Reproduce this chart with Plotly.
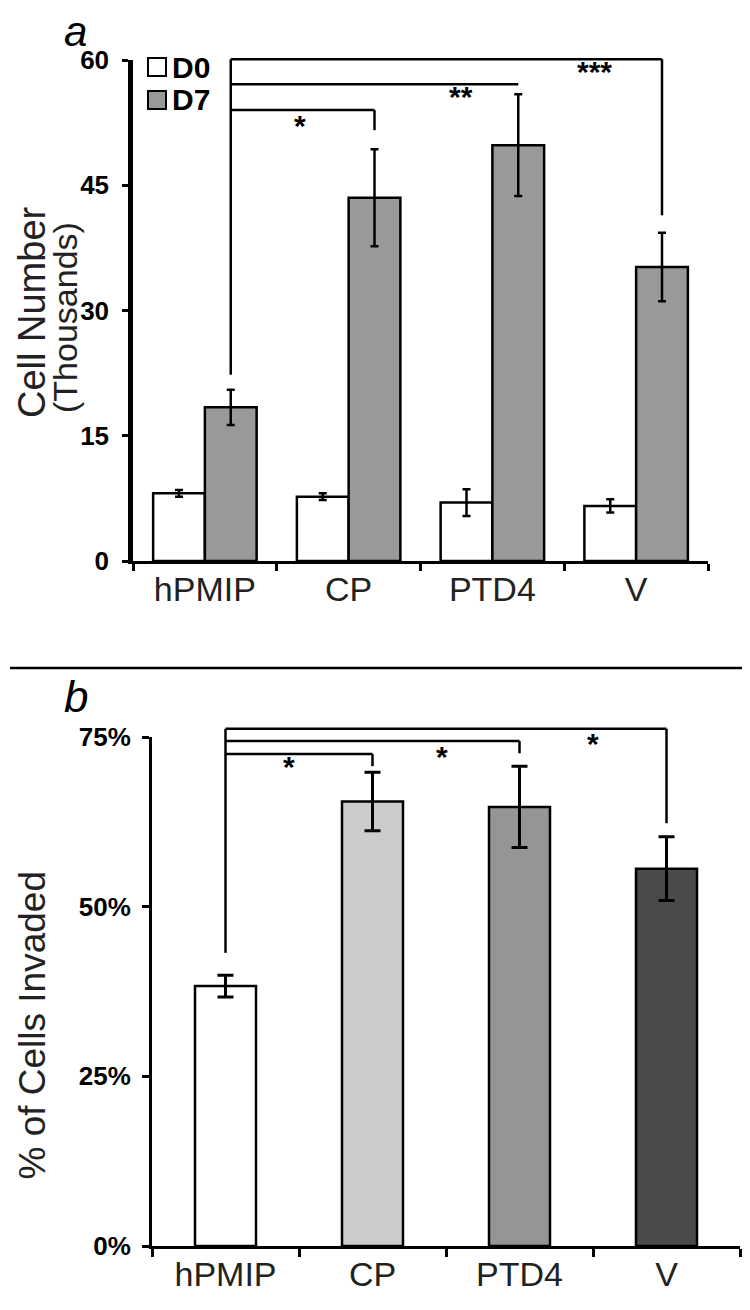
import plotly.graph_objects as go

# ---------------- data ----------------
categories = ["hPMIP", "CP", "PTD4", "V"]
series_names = ["D0", "D7"]
d0_values = [8.1, 7.7, 7.0, 6.6]
d0_errors = [0.4, 0.4, 1.6, 0.8]
d7_values = [18.4, 43.5, 49.8, 35.2]
d7_errors = [2.1, 5.8, 6.1, 4.1]
a_ticks = [0, 15, 30, 45, 60]

invaded_values = [38.3, 65.5, 64.7, 55.6]
invaded_errors = [1.6, 4.3, 6.0, 4.7]
b_ticks = [0, 25, 50, 75]
b_ticklabels = ["0%", "25%", "50%", "75%"]

# significance brackets: (from idx, to idx, bar level, drop end, label, label x, label y)
a_brackets = [
    (0, 3, 60.1, 41.4, "***", 2.71, 58.6),
    (0, 2, 57.1, 57.1, "**", 1.78, 55.6),
    (0, 1, 54.0, 51.6, "*", 0.66, 52.1),
]
a_bracket_base = 22.3
b_brackets = [
    (0, 3, 76.2, 62.3, "*", 2.50, 74.0),
    (0, 2, 74.4, 72.6, "*", 1.47, 72.2),
    (0, 1, 72.5, 70.7, "*", 0.43, 70.6),
]
b_bracket_base = 43.2

# ---------------- style ----------------
W, H = 750, 1310
PAGE_OFFSET = 8  # default body margin of the page
FONT = "Liberation Sans"
a_colors = ["#ffffff", "#999999"]
b_colors = ["#ffffff", "#cccccc", "#959595", "#4a4a4a"]
BARGAP = 0.28
A_YMAX = 60
B_YMAX = 75


def px_x(x):
    return (x - PAGE_OFFSET) / W


def px_y(y):
    return 1 - (y - PAGE_OFFSET) / H


fig = go.Figure()

for name, vals, errs, col in zip(series_names, [d0_values, d7_values],
                                 [d0_errors, d7_errors], a_colors):
    fig.add_trace(go.Bar(
        x=categories, y=vals, name=name, xaxis="x", yaxis="y",
        marker=dict(color=col, line=dict(color="black", width=2.5)),
        error_y=dict(type="data", array=errs, color="black", thickness=2.5, width=4),
        showlegend=False,
    ))

fig.add_trace(go.Bar(
    x=categories, y=invaded_values, xaxis="x2", yaxis="y2", width=0.415,
    marker=dict(color=b_colors, line=dict(color="black", width=2.5)),
    error_y=dict(type="data", array=invaded_errors, color="black", thickness=3, width=8),
    showlegend=False,
))

shapes = []
annotations = []
LW = 2.5

# panel a brackets
off = (1 - BARGAP) / 4
for i0, i1, lvl, drop, lab, lx, ly in a_brackets:
    x0 = i0 + off
    x1 = i1 + off
    shapes.append(dict(type="line", xref="x", yref="y domain", x0=x0, x1=x1,
                       y0=lvl / A_YMAX, y1=lvl / A_YMAX, line=dict(color="black", width=LW)))
    if drop != lvl:
        shapes.append(dict(type="line", xref="x", yref="y domain", x0=x1, x1=x1,
                           y0=lvl / A_YMAX, y1=drop / A_YMAX, line=dict(color="black", width=LW)))
    annotations.append(dict(xref="x", yref="y", x=lx, y=ly, text=lab, showarrow=False,
                            font=dict(family=FONT, size=30, color="black", weight="bold"),
                            yanchor="middle"))
top_a = max(b[2] for b in a_brackets)
shapes.append(dict(type="line", xref="x", yref="y domain", x0=off, x1=off,
                   y0=top_a / A_YMAX, y1=a_bracket_base / A_YMAX,
                   line=dict(color="black", width=LW)))

# panel b brackets
for i0, i1, lvl, drop, lab, lx, ly in b_brackets:
    shapes.append(dict(type="line", xref="x2", yref="y2 domain", x0=i0, x1=i1,
                       y0=lvl / B_YMAX, y1=lvl / B_YMAX, line=dict(color="black", width=LW)))
    shapes.append(dict(type="line", xref="x2", yref="y2 domain", x0=i1, x1=i1,
                       y0=lvl / B_YMAX, y1=drop / B_YMAX, line=dict(color="black", width=LW)))
    annotations.append(dict(xref="x2", yref="y2", x=lx, y=ly, text=lab, showarrow=False,
                            font=dict(family=FONT, size=30, color="black", weight="bold"),
                            yanchor="middle"))
top_b = max(b[2] for b in b_brackets)
shapes.append(dict(type="line", xref="x2", yref="y2 domain", x0=0, x1=0,
                   y0=top_b / B_YMAX, y1=b_bracket_base / B_YMAX,
                   line=dict(color="black", width=LW)))

# separator line between panels
shapes.append(dict(type="line", xref="paper", yref="paper", x0=px_x(10), x1=1,
                   y0=px_y(668), y1=px_y(668), line=dict(color="black", width=2.5)))

# manual legend
for k, (name, col) in enumerate(zip(series_names, a_colors)):
    yc = 67 + 33 * k
    shapes.append(dict(type="rect", xref="paper", yref="paper",
                       x0=px_x(148), x1=px_x(166), y0=px_y(yc - 9), y1=px_y(yc + 9),
                       fillcolor=col, line=dict(color="black", width=2)))
    annotations.append(dict(xref="paper", yref="paper", x=px_x(170), y=px_y(yc), text=name,
                            showarrow=False, xanchor="left", yanchor="middle",
                            font=dict(family=FONT, size=30, color="black", weight="bold")))

# panel letters (kept fully inside the page)
annotations.append(dict(xref="paper", yref="paper", x=px_x(75), y=1, text="<i>a</i>",
                        showarrow=False, font=dict(family=FONT, size=42, color="black"),
                        xanchor="center", yanchor="top", yshift=2))
annotations.append(dict(xref="paper", yref="paper", x=px_x(76), y=px_y(697), text="<i>b</i>",
                        showarrow=False, font=dict(family=FONT, size=44, color="black"),
                        xanchor="center", yanchor="middle"))

# axis titles
annotations.append(dict(xref="paper", yref="paper", x=0, y=px_y(312), text="Cell Number",
                        textangle=-90, showarrow=False,
                        font=dict(family=FONT, size=38, color="#222222"),
                        xanchor="left", yanchor="middle", xshift=1))
annotations.append(dict(xref="paper", yref="paper", x=px_x(65), y=px_y(318), text="(Thousands)",
                        textangle=-90, showarrow=False,
                        font=dict(family=FONT, size=34, color="#222222"),
                        xanchor="center", yanchor="middle"))
annotations.append(dict(xref="paper", yref="paper", x=0, y=px_y(1025),
                        text="% of Cells Invaded", textangle=-90, showarrow=False,
                        font=dict(family=FONT, size=37, color="#222222"),
                        xanchor="left", yanchor="middle", xshift=1))

axis_common = dict(showgrid=False, zeroline=False, linecolor="black", ticks="outside",
                   tickcolor="black", showline=True, automargin=False)

fig.update_layout(
    width=W, height=H,
    margin=dict(l=0, r=0, t=0, b=0, autoexpand=False),
    paper_bgcolor="white", plot_bgcolor="white",
    barmode="group", bargap=BARGAP, bargroupgap=0,
    xaxis=dict(domain=[px_x(133), px_x(708)], anchor="y", type="category",
               range=[-0.5, 3.5], tickson="boundaries", ticklen=7, tickwidth=2.5,
               linewidth=3, ticklabelstandoff=-4,
               tickfont=dict(family=FONT, size=34, color="#222222"),
               **axis_common),
    yaxis=dict(domain=[px_y(561), px_y(60)], anchor="x", range=[0, A_YMAX],
               tickmode="array", tickvals=a_ticks, ticklen=6, tickwidth=3, linewidth=4.5,
               ticklabelstandoff=8,
               tickfont=dict(family=FONT, size=26, color="black", weight="bold"),
               **axis_common),
    xaxis2=dict(domain=[px_x(152), px_x(740)], anchor="y2", type="category",
                range=[-0.5, 3.5], tickson="boundaries", ticklen=8, tickwidth=2.5,
                linewidth=3, ticklabelstandoff=-4,
                tickfont=dict(family=FONT, size=34, color="#222222"),
                **axis_common),
    yaxis2=dict(domain=[px_y(1246), px_y(737)], anchor="x2", range=[0, B_YMAX],
                tickmode="array", tickvals=b_ticks, ticktext=b_ticklabels,
                ticklen=7, tickwidth=3, linewidth=3, ticklabelstandoff=6,
                tickfont=dict(family=FONT, size=26, color="black", weight="bold"),
                **axis_common),
    shapes=shapes,
    annotations=annotations,
)

fig.write_html("out.html")
